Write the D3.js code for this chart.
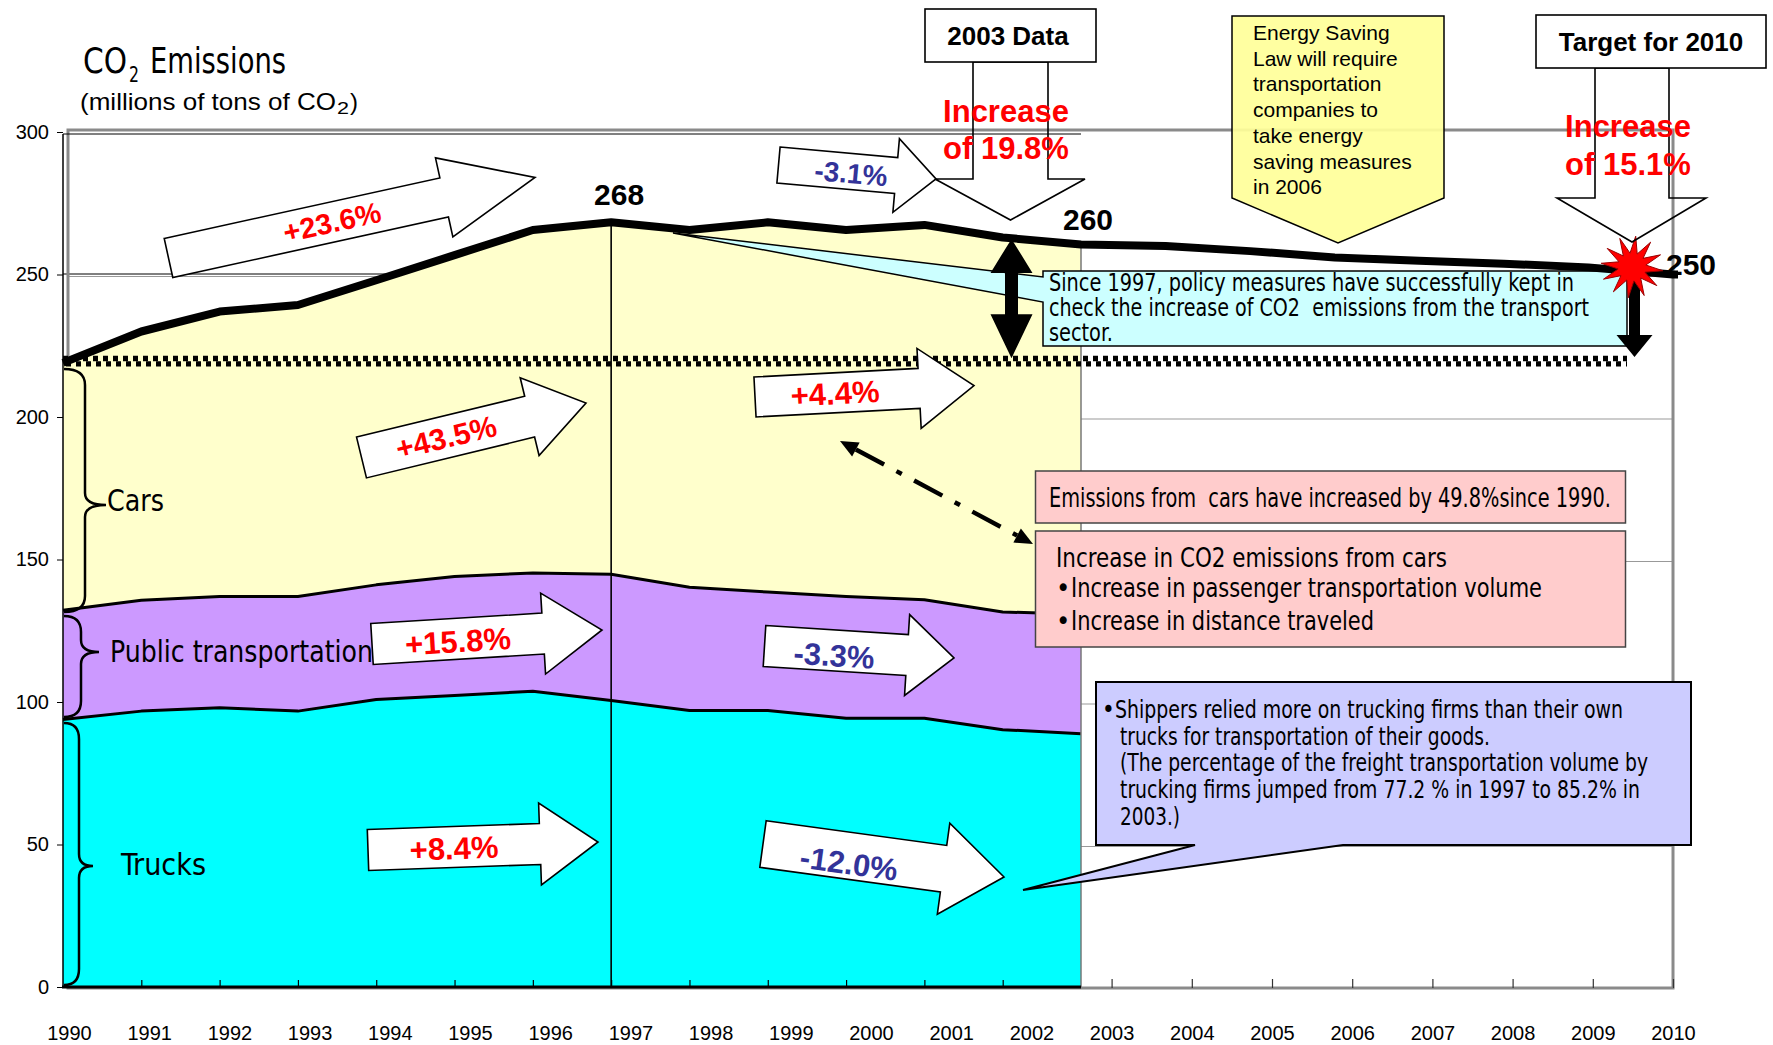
<!DOCTYPE html>
<html><head><meta charset="utf-8">
<script src="https://cdn.jsdelivr.net/npm/d3@7"></script>
<style>
body{margin:0;background:#fff;}
svg{display:block;}
text{white-space:pre;}
</style></head><body>
<svg id="chart" width="1773" height="1045"></svg>
<script>
// ---------------- DATA ----------------
const years = [1990,1991,1992,1993,1994,1995,1996,1997,1998,1999,2000,2001,2002,2003];
const trucks = [93.9,96.8,98.0,96.8,100.9,102.3,103.8,100.5,97.0,97.0,94.3,94.3,90.3,88.9];
const publicTransport = [38.3,38.9,39.0,40.2,40.2,41.7,41.5,44.3,43.3,41.6,42.7,41.6,41.3,41.9];
const cars = [86.8,94.3,100.0,102.3,106.9,112.8,120.3,123.5,125.3,129.7,128.6,131.5,131.4,129.7];
const projYears = [2004,2005,2006,2007,2008,2009,2010];
const projTotal = [260.0,258.2,256.0,254.8,253.8,252.5,250.0];
const level1990 = 219.6;
const yTicks = [0,50,100,150,200,250,300];
const xTickLabels = [1990,1991,1992,1993,1994,1995,1996,1997,1998,1999,2000,2001,2002,2003,2004,2005,2006,2007,2008,2009,2010];
const areaTickYears = [1991,1992,1993,1994,1995,1996,1997,1998,1999,2000,2001,2002];
const projTickYears = [2003,2004,2005,2006,2007,2008,2009,2010];
const valueLabels = [{t:"268",year:1997,v:268},{t:"260",year:2003,v:260},{t:"250",year:2010,v:250}];
const seriesKeys = ["trucks","public","cars"];
const seriesColors = {trucks:"#00FFFF", public:"#CC99FF", cars:"#FFFFCC"};

// ---------------- SETUP ----------------
const NARROW = '"Liberation Sans Narrow","Arial Narrow","DejaVu Sans Condensed",sans-serif';
const SANS = '"Liberation Sans",Arial,Helvetica,sans-serif';
const svg = d3.select('#chart');
const y = d3.scaleLinear().domain([0,300]).range([987,132]);
const xData = d3.scaleLinear().domain([1990,2003]).range([63,1081]);
const xLine = d3.scaleLinear().domain([1990,2003,2010]).range([63,1081,1673]);
const xLabel = d3.scaleLinear().domain([1990,2010]).range([69,1673]);

function fitText(g, str, x, yy, size, width, opts={}) {
  const t = g.append('text').attr('x',x).attr('y',yy).text(str)
    .attr('font-family', opts.family||NARROW).attr('font-size',size)
    .attr('fill', opts.fill||'#000').attr('xml:space','preserve');
  if (opts.weight) t.attr('font-weight',opts.weight);
  if (opts.anchor) t.attr('text-anchor',opts.anchor);
  if (width) t.attr('textLength',width).attr('lengthAdjust','spacingAndGlyphs');
  return t;
}

// ---------------- GRID / FRAME ----------------
const grid = svg.append('g');
[50,100,150,200,250].forEach(v=>{
  grid.append('line').attr('x1',68).attr('x2',1673).attr('y1',y(v)+2).attr('y2',y(v)+2)
    .attr('stroke','#999').attr('stroke-width',1.2);
  grid.append('line').attr('x1',63).attr('x2',1081).attr('y1',y(v)-0.5).attr('y2',y(v)-0.5)
    .attr('stroke','#000').attr('stroke-width',1);
});
svg.append('rect').attr('x',68).attr('y',130).attr('width',1605).attr('height',858)
  .attr('fill','none').attr('stroke','#8a8a8a').attr('stroke-width',3);

// ---------------- AREAS ----------------
const rows = years.map((yr,i)=>({year:yr, trucks:trucks[i], public:publicTransport[i], cars:cars[i]}));
const stacked = d3.stack().keys(seriesKeys)(rows);
const area = d3.area().x(d=>xData(d.data.year)).y0(d=>y(d[0])).y1(d=>y(d[1]));
const areaG = svg.append('g');
areaG.selectAll('path.a').data(stacked).join('path').attr('class','a')
  .attr('d',area).attr('fill',d=>seriesColors[d.key]);
const topLine = d3.line().x(d=>xData(d.data.year)).y(d=>y(d[1]));
areaG.selectAll('path.l').data(stacked).join('path').attr('class','l')
  .attr('d',topLine).attr('fill','none').attr('stroke','#000')
  .attr('stroke-width',d=>d.key==='cars'?1.2:3).attr('stroke-linejoin','round');
const totals = stacked[2].map(d=>d[1]);
const i97 = years.indexOf(1997);
areaG.append('line').attr('x1',xData(1997)).attr('x2',xData(1997)).attr('y1',y(totals[i97])).attr('y2',y(0))
  .attr('stroke','#000').attr('stroke-width',1.6);
areaG.append('line').attr('x1',xData(2003)).attr('x2',xData(2003)).attr('y1',y(totals[totals.length-1])).attr('y2',y(0))
  .attr('stroke','#777').attr('stroke-width',1.5);

// ---------------- AXES ----------------
svg.append('line').attr('x1',63).attr('x2',63).attr('y1',134).attr('y2',988).attr('stroke','#000').attr('stroke-width',1.5);
svg.append('line').attr('x1',63).attr('x2',1081).attr('y1',134).attr('y2',134).attr('stroke','#000').attr('stroke-width',1);
svg.append('line').attr('x1',62).attr('x2',1081).attr('y1',987).attr('y2',987).attr('stroke','#000').attr('stroke-width',3);
const yAxis = svg.append('g').attr('transform','translate(63,0)')
  .call(d3.axisLeft(y).tickValues(yTicks).tickSize(6).tickPadding(8));
yAxis.select('.domain').remove();
yAxis.selectAll('text').attr('font-family',SANS).attr('font-size',20).attr('fill','#000');
const tA = svg.append('g').attr('transform','translate(0,987)')
  .call(d3.axisBottom(xData).tickValues(areaTickYears).tickSize(-7).tickFormat(''));
tA.select('.domain').remove();
tA.selectAll('line').attr('stroke','#000').attr('stroke-width',1.2);
const tP = svg.append('g').attr('transform','translate(0,988)')
  .call(d3.axisBottom(xLabel).tickValues(projTickYears).tickSize(-9).tickFormat(''));
tP.select('.domain').remove();
tP.selectAll('line').attr('stroke','#333').attr('stroke-width',1.2);
const xAx = svg.append('g').attr('transform','translate(0,1026)')
  .call(d3.axisBottom(xLabel).tickValues(xTickLabels).tickSize(0).tickPadding(0).tickFormat(d3.format('d')));
xAx.select('.domain').remove();
xAx.selectAll('text').attr('font-family',SANS).attr('font-size',20).attr('fill','#000');

// ---------------- 1990 LEVEL (checkered) ----------------
const lv = y(level1990);
svg.append('line').attr('x1',63).attr('x2',1627).attr('y1',lv-2.7).attr('y2',lv-2.7)
  .attr('stroke','#000').attr('stroke-width',5.4).attr('stroke-dasharray','5 5');
svg.append('line').attr('x1',66).attr('x2',1627).attr('y1',lv+2.7).attr('y2',lv+2.7)
  .attr('stroke','#000').attr('stroke-width',5.4).attr('stroke-dasharray','5 5');

// ---------------- CYAN CALLOUT ----------------
svg.append('path').attr('d','M1043,271 L1627,271 L1627,346 L1043,346 L1043,302 L673,233 L1043,277 Z')
  .attr('fill','#CCFFFF').attr('stroke','#000').attr('stroke-width',1.5);
const cy = svg.append('g');
fitText(cy,'Since 1997, policy measures have successfully kept in',1049,291,24,525);
fitText(cy,'check the increase of CO2  emissions from the transport',1049,316,24,540);
fitText(cy,'sector.',1049,341,24,64);

// ---------------- TOTAL THICK LINE ----------------
const totalPts = years.map((yr,i)=>[xLine(yr),y(totals[i])])
  .concat(projYears.map((yr,i)=>[xLine(yr),y(projTotal[i])]));
totalPts.push([1678,y(projTotal[projTotal.length-1])]);
svg.append('path').attr('d',d3.line()(totalPts)).attr('fill','none')
  .attr('stroke','#000').attr('stroke-width',8).attr('stroke-linejoin','round');

// ---------------- BLACK ARROWS ----------------
const ax = 1011.5, at = y(262.5), ab = lv-3;
svg.append('path').attr('d',`M${ax},${at} L${ax+21},${at+34} L${ax+6.5},${at+34} L${ax+6.5},${ab-44} L${ax+21},${ab-44} L${ax},${ab} L${ax-21},${ab-44} L${ax-6.5},${ab-44} L${ax-6.5},${at+34} L${ax-21},${at+34} Z`)
  .attr('fill','#000');
const bx = 1634.5;
svg.append('path').attr('d',`M${bx-5.5},275 L${bx+5.5},275 L${bx+5.5},335 L${bx+18},335 L${bx},357 L${bx-18},335 L${bx-5.5},335 Z`).attr('fill','#000');

// starburst
(function(){
  const cx=1632, cyy=267, n=12, ro=31, ri=14;
  const pts=[];
  for(let k=0;k<n*2;k++){const r=k%2?ri:ro; const a=-Math.PI/2+k*Math.PI/n+0.12; pts.push([cx+r*Math.cos(a),cyy+r*Math.sin(a)]);}
  svg.append('path').attr('d','M'+pts.map(p=>p.join(',')).join('L')+'Z').attr('fill','#FF0000').attr('stroke','#990000').attr('stroke-width',1);
})();

// ---------------- BLOCK ARROWS ----------------
function blockArrow(tail, tip, shaft, headW, headL, label, color, tpos, fs) {
  const dx=tip[0]-tail[0], dy=tip[1]-tail[1], len=Math.hypot(dx,dy), ang=Math.atan2(dy,dx)*180/Math.PI;
  const p=d3.path();
  p.moveTo(0,-shaft/2); p.lineTo(len-headL,-shaft/2); p.lineTo(len-headL,-headW/2); p.lineTo(len,0);
  p.lineTo(len-headL,headW/2); p.lineTo(len-headL,shaft/2); p.lineTo(0,shaft/2); p.closePath();
  svg.append('path').attr('d',p.toString()).attr('transform',`translate(${tail[0]},${tail[1]}) rotate(${ang})`)
    .attr('fill','#fff').attr('stroke','#000').attr('stroke-width',1.6).attr('stroke-linejoin','miter');
  svg.append('text').attr('transform',`translate(${tpos[0]},${tpos[1]}) rotate(${ang})`)
    .attr('text-anchor','middle').attr('dy','0.36em').attr('font-family',SANS).attr('font-weight','bold')
    .attr('font-size',fs).attr('fill',color).text(label);
}
const RED='#FF0000', BLUE='#333399';
blockArrow([168.5,258],[535,177.5],40,81,93,'+23.6%',RED,[332,222],29);
blockArrow([361.5,457.5],[586,403],42,80,58,'+43.5%',RED,[446,437],30);
blockArrow([372,644],[602,630],41,81,59,'+15.8%',RED,[458,641],31);
blockArrow([368,850],[598,842],41,82,58,'+8.4%',RED,[454,848],31);
blockArrow([755,397],[974,385.5],40,80,55,'+4.4%',RED,[835,393],31);
blockArrow([764.5,646],[954,658],41,81,47,'-3.3%',BLUE,[834,655],31);
blockArrow([763,844],[1004,877],47,92,61,'-12.0%',BLUE,[849,863],31);
blockArrow([778.5,165],[936,179],36,74,40,'-3.1%',BLUE,[851,173],28);

// dash-dot double arrow
(function(){
  const a=[840,441], b=[1033,544];
  const ang=Math.atan2(b[1]-a[1],b[0]-a[0]);
  const L=18, Wd=8;
  const ux=Math.cos(ang), uy=Math.sin(ang);
  svg.append('line').attr('x1',a[0]+ux*L).attr('y1',a[1]+uy*L).attr('x2',b[0]-ux*L).attr('y2',b[1]-uy*L)
    .attr('stroke','#000').attr('stroke-width',4.5).attr('stroke-dasharray','32 14 6 14');
  function head(p,dir){
    const bxp=p[0]-dir*ux*L, byp=p[1]-dir*uy*L;
    svg.append('path').attr('d',`M${p[0]},${p[1]} L${bxp-uy*Wd},${byp+ux*Wd} L${bxp+uy*Wd},${byp-ux*Wd} Z`).attr('fill','#000');
  }
  head(a,-1); head(b,1);
})();

// ---------------- DOWN ARROWS & TOP BOXES ----------------
svg.append('path').attr('d','M973,62 L1048,62 L1048,179 L1085,179 L1010.5,220 L935,179 L973,179 Z')
  .attr('fill','none').attr('stroke','#000').attr('stroke-width',1.6);
svg.append('rect').attr('x',925).attr('y',9).attr('width',171).attr('height',53).attr('fill','#fff').attr('stroke','#000').attr('stroke-width',1.6);
svg.append('text').attr('x',1008).attr('y',45).attr('text-anchor','middle').attr('font-family',SANS).attr('font-weight','bold').attr('font-size',26).text('2003 Data');
svg.append('text').attr('x',1006).attr('y',122).attr('text-anchor','middle').attr('font-family',SANS).attr('font-weight','bold').attr('font-size',31).attr('fill',RED).text('Increase');
svg.append('text').attr('x',1006).attr('y',159).attr('text-anchor','middle').attr('font-family',SANS).attr('font-weight','bold').attr('font-size',31).attr('fill',RED).text('of 19.8%');

svg.append('path').attr('d','M1595,68 L1669,68 L1669,198 L1706,198 L1632,242 L1557,198 L1595,198 Z')
  .attr('fill','none').attr('stroke','#000').attr('stroke-width',1.6);
svg.append('rect').attr('x',1536).attr('y',15).attr('width',230).attr('height',53).attr('fill','#fff').attr('stroke','#000').attr('stroke-width',1.6);
svg.append('text').attr('x',1651).attr('y',51).attr('text-anchor','middle').attr('font-family',SANS).attr('font-weight','bold').attr('font-size',26).text('Target for 2010');
svg.append('text').attr('x',1628).attr('y',137).attr('text-anchor','middle').attr('font-family',SANS).attr('font-weight','bold').attr('font-size',31).attr('fill',RED).text('Increase');
svg.append('text').attr('x',1628).attr('y',175).attr('text-anchor','middle').attr('font-family',SANS).attr('font-weight','bold').attr('font-size',31).attr('fill',RED).text('of 15.1%');

// Energy Saving callout
svg.append('path').attr('d','M1232,16 L1444,16 L1444,198 L1338,243 L1232,198 Z')
  .attr('fill','#FFFF99').attr('fill-opacity',0.92).attr('stroke','#000').attr('stroke-width',1.5);
['Energy Saving','Law will require','transportation','companies to','take energy','saving measures','in 2006']
  .forEach((s,i)=>svg.append('text').attr('x',1253).attr('y',40+i*25.7).attr('font-family',SANS).attr('font-size',21).text(s));

// ---------------- PINK BOXES ----------------
svg.append('rect').attr('x',1035.5).attr('y',471).attr('width',590).attr('height',52).attr('fill','#FFCCCC').attr('stroke','#444').attr('stroke-width',1.5);
fitText(svg,'Emissions from  cars have increased by 49.8%since 1990.',1049,507,26,562);
svg.append('rect').attr('x',1035.5).attr('y',531).attr('width',590).attr('height',116).attr('fill','#FFCCCC').attr('stroke','#444').attr('stroke-width',1.5);
fitText(svg,'Increase in CO2 emissions from cars',1056,567,27,391);
fitText(svg,'•',1056,597,27,null);
fitText(svg,'Increase in passenger transportation volume',1071,597,27,471);
fitText(svg,'•',1056,630,27,null);
fitText(svg,'Increase in distance traveled',1071,630,27,303);

// ---------------- LAVENDER CALLOUT ----------------
svg.append('path').attr('d','M1096,682 L1691,682 L1691,845 L1343,845 L1023,890 L1195,845 L1096,845 Z')
  .attr('fill','#CCCCFF').attr('stroke','#000').attr('stroke-width',2);
fitText(svg,'•',1102,718,24,null);
fitText(svg,'Shippers relied more on trucking firms than their own',1115,718,25,508);
fitText(svg,'trucks for transportation of their goods.',1120,745,25,370);
fitText(svg,'(The percentage of the freight transportation volume by',1120,771,25,528);
fitText(svg,'trucking firms jumped from 77.2 % in 1997 to 85.2% in',1120,798,25,520);
fitText(svg,'2003.)',1120,825,25,60);

// ---------------- VALUE LABELS ----------------
valueLabels.forEach(d=>{
  const x0 = d.year===2010 ? xLine(d.year)+18 : xLine(d.year)+(d.year===1997?8:7);
  svg.append('text').attr('x',x0).attr('y',y(d.v))
    .attr('font-family',SANS).attr('font-weight','bold').attr('font-size',30)
    .attr('text-anchor','middle')
    .attr('dy', d.year===1997? '-0.6em' : (d.year===2003? '-0.52em' : '0em'))
    .text(d.t);
});

// ---------------- BRACES & SERIES LABELS ----------------
function brace(xL, xM, yT, yB, xTip, yTip) {
  const r=16, r2=12;
  const p=d3.path();
  p.moveTo(xL,yT); p.quadraticCurveTo(xM,yT,xM,yT+r); p.lineTo(xM,yTip-r2);
  p.quadraticCurveTo(xM,yTip,xTip,yTip); p.quadraticCurveTo(xM,yTip,xM,yTip+r2);
  p.lineTo(xM,yB-r); p.quadraticCurveTo(xM,yB,xL,yB);
  svg.append('path').attr('d',p.toString()).attr('fill','none').attr('stroke','#000').attr('stroke-width',2.5);
}
brace(64,85,369,612,106,505);
brace(64,81,616,717,99,652);
brace(64,79,723,985,93,866);
fitText(svg,'Cars',107,511,30,57);
fitText(svg,'Public transportation',110,662,30,263);
fitText(svg,'Trucks',121,875,30,85);

// ---------------- TITLE ----------------
fitText(svg,'CO',83,73,36,44);
fitText(svg,'2',129,82,22,10);
fitText(svg,'Emissions',150,73,36,136);
fitText(svg,'(millions of tons of CO',80,110,24,256,{family:SANS});
fitText(svg,'2',337,114,17,12,{family:SANS});
fitText(svg,')',350,110,24,null,{family:SANS});
</script>
</body></html>
